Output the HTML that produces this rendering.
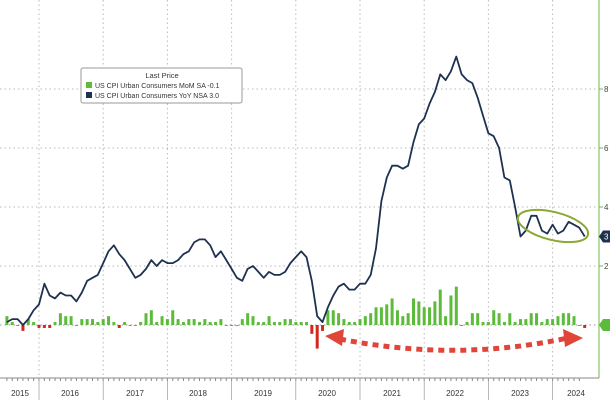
<!DOCTYPE html>
<html><head><meta charset="utf-8"><style>
html,body{margin:0;padding:0;background:#fff;}
svg{display:block;font-family:"Liberation Sans",sans-serif;}
</style></head><body>
<svg id="c" width="610" height="412" xmlns="http://www.w3.org/2000/svg"></svg>
<script>
const s=document.getElementById('c');let h='';
const Y=v=>325-v*29.5, X=m=>39+(m+1)*5.35; // m=months from Jan 2016
// horizontal grid
[8,6,4,2].forEach(v=>{h+=`<line x1="0" x2="599" y1="${Y(v)}" y2="${Y(v)}" stroke="#bbb" stroke-dasharray="1.5,3"/>`;});
// vertical grid
for(let i=0;i<9;i++){const x=39+i*64.2;h+=`<line x1="${x}" x2="${x}" y1="0" y2="378" stroke="#bbb" stroke-dasharray="1.5,3"/>`;}
h+=`<line x1="0" x2="599" y1="325" y2="325" stroke="#999" stroke-dasharray="1.5,3"/>`;
// right axis
h+=`<line x1="599" x2="599" y1="0" y2="378" stroke="#6fb84a" stroke-width="1"/>`;
[8,6,4,2].forEach(v=>{h+=`<line x1="599" x2="603" y1="${Y(v)}" y2="${Y(v)}" stroke="#6fb84a"/><text x="604" y="${Y(v)+3}" font-size="8" fill="#444">${v}</text>`;});
// bottom axis
h+=`<line x1="0" x2="599" y1="378" y2="378" stroke="#888"/>`;
for(let m=-6;m<102;m++){h+=`<line x1="${39+m*5.35}" x2="${39+m*5.35}" y1="378" y2="381" stroke="#888"/>`;}
const yrs=[[2015,20],[2016,70],[2017,135],[2018,198],[2019,263],[2020,327],[2021,392],[2022,455],[2023,520],[2024,576]];
yrs.forEach(([t,x])=>{h+=`<text x="${x}" y="396" font-size="8" fill="#333" text-anchor="middle">${t}</text>`;});
for(let i=0;i<9;i++){const x=39+i*64.2;h+=`<line x1="${x}" x2="${x}" y1="378" y2="400" stroke="#999" stroke-width="0.7"/>`;}
// MoM bars
const mom=[0.3,0.1,0.0,-0.2,0.2,0.1,-0.1,
-0.1,-0.1,0.1,0.4,0.3,0.3,0.0,0.2,0.2,0.2,0.1,0.2,
0.3,0.1,-0.1,0.1,0.0,0.0,0.1,0.4,0.5,0.1,0.3,0.2,
0.5,0.2,0.1,0.2,0.2,0.1,0.2,0.1,0.1,0.2,0.0,0.0,
0.0,0.2,0.4,0.3,0.1,0.1,0.3,0.1,0.1,0.2,0.2,0.1,
0.1,0.1,-0.3,-0.8,-0.2,0.5,0.5,0.4,0.2,0.1,0.1,0.2,
0.3,0.4,0.6,0.6,0.7,0.9,0.5,0.3,0.4,0.9,0.8,0.6,
0.6,0.8,1.2,0.3,1.0,1.3,0.0,0.1,0.4,0.4,0.1,0.1,
0.5,0.4,0.1,0.4,0.1,0.2,0.2,0.4,0.4,0.1,0.2,0.2,
0.3,0.4,0.4,0.3,0.0,-0.1];
mom.forEach((v,i)=>{const m=i-7;const x=X(m)-1.5;let y=Y(Math.max(v,0)),hh=Math.abs(v)*29.5;if(hh<1)hh=1;
h+=`<rect x="${x}" y="${v>=0?y:325}" width="3" height="${hh}" fill="${v>=0?'#5dbb3c':'#d0281f'}"/>`;});
// YoY line
const yoy=[0.1,0.2,0.2,0,0.2,0.5,0.7,
1.4,1.0,0.9,1.1,1.0,1.0,0.8,1.1,1.5,1.6,1.7,2.1,
2.5,2.7,2.4,2.2,1.9,1.6,1.7,1.9,2.2,2.0,2.2,2.1,
2.1,2.2,2.4,2.5,2.8,2.9,2.9,2.7,2.3,2.5,2.2,1.9,
1.6,1.5,1.9,2.0,1.8,1.6,1.8,1.7,1.7,1.8,2.1,2.3,
2.5,2.3,1.5,0.3,0.1,0.6,1.0,1.3,1.4,1.2,1.2,1.4,
1.4,1.7,2.6,4.2,5.0,5.4,5.4,5.3,5.4,6.2,6.8,7.0,
7.5,7.9,8.5,8.3,8.6,9.1,8.5,8.3,8.2,7.7,7.1,6.5,
6.4,6.0,5.0,4.9,4.0,3.0,3.2,3.7,3.7,3.2,3.1,3.4,
3.1,3.2,3.5,3.4,3.3,3.0];
h+=`<polyline fill="none" stroke="#1f3150" stroke-width="1.8" stroke-linejoin="round" points="${yoy.map((v,i)=>X(i-7).toFixed(1)+','+Y(v).toFixed(1)).join(' ')}"/>`;
// last value tags
h+=`<polygon points="599,${Y(3)} 603,${Y(3)-6} 612,${Y(3)-6} 612,${Y(3)+6} 603,${Y(3)+6}" fill="#1f3150"/><text x="604" y="${Y(3)+3}" font-size="8" fill="#fff">3</text>`;
h+=`<polygon points="599,325 603,319 612,319 612,331 603,331" fill="#5dbb3c"/>`;
// ellipse
h+=`<ellipse cx="553" cy="226" rx="36" ry="14" transform="rotate(14 553 226)" fill="none" stroke="#8aa832" stroke-width="2"/>`;
// red dashed arrow
h+=`<path d="M340,339 Q455,362 568,338" fill="none" stroke="#e0453a" stroke-width="5" stroke-dasharray="6,5"/>`;
h+=`<polygon points="325,336 344,329 342,346" fill="#e0453a"/><polygon points="583,338 563,329 565,347" fill="#e0453a"/>`;
// legend
h+=`<rect x="81" y="68" width="161" height="35" fill="#fff" stroke="#999" rx="2"/>`;
h+=`<text x="162" y="78" font-size="7.5" fill="#333" text-anchor="middle">Last Price</text>`;
h+=`<rect x="86" y="82" width="6" height="6" fill="#5dbb3c"/><text x="95" y="88" font-size="7" fill="#333">US CPI Urban Consumers MoM SA  -0.1</text>`;
h+=`<rect x="86" y="92" width="6" height="6" fill="#1f3150"/><text x="95" y="98" font-size="7" fill="#333">US CPI Urban Consumers YoY NSA 3.0</text>`;
s.innerHTML=h;
</script>
</body></html>
